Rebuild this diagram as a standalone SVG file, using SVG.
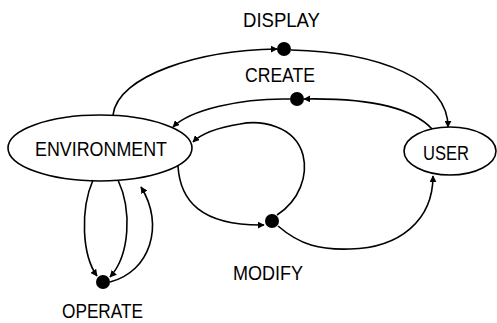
<svg xmlns="http://www.w3.org/2000/svg" width="497" height="323" viewBox="0 0 497 323">
<defs>
<style>
.n{fill:none;stroke:#000;stroke-width:1.6}
.e{fill:none;stroke:#000;stroke-width:1.6;marker-end:url(#ah)}
.d{fill:#000}
text{font-family:"Liberation Sans","DejaVu Sans",sans-serif;font-size:21px;fill:#000}
</style>
<marker id="ah" viewBox="0 0 10 10" refX="9" refY="5" markerWidth="7" markerHeight="7" markerUnits="userSpaceOnUse" orient="auto">
<path d="M0,0 L10,5 L0,10 z" fill="#000"/>
</marker>
</defs>
<rect width="497" height="323" fill="#fff"/>
<g id="connectors">
<path class="e" d="M113,115 C118,75 200,50 277,49"/>
<path class="e" d="M291,50 C380,52 448,80 448,127"/>
<path class="e" d="M432,129 C410,105 360,98 304,99"/>
<path class="e" d="M290,99 C240,98 190,110 173,127"/>
<path class="e" d="M277,215 C300,200 308,175 303,155 C295,125 260,120 240,124 C215,128 200,135 193,142"/>
<path class="e" d="M178,166 C180,200 200,226 264,225"/>
<path class="e" d="M278,226 C300,245 320,250 350,249 C400,248 433,220 433,176"/>
<path class="e" d="M93,180 C80,210 82,255 97,276"/>
<path class="e" d="M118,180 C132,210 130,255 110,277"/>
<path class="e" d="M110,282 C150,272 165,225 141,187"/>
</g>
<g id="environment">
<ellipse class="n" cx="100" cy="148" rx="92" ry="33"/>
<text x="35" y="156" textLength="132" lengthAdjust="spacingAndGlyphs">ENVIRONMENT</text>
</g>
<g id="user">
<ellipse class="n" cx="450" cy="151" rx="46" ry="24"/>
<text x="423" y="160" textLength="46" lengthAdjust="spacingAndGlyphs">USER</text>
</g>
<g id="display">
<circle class="d" cx="284" cy="49" r="7"/>
<text x="243" y="27" textLength="77" lengthAdjust="spacingAndGlyphs">DISPLAY</text>
</g>
<g id="create">
<circle class="d" cx="297" cy="99" r="7"/>
<text x="245" y="82" textLength="70" lengthAdjust="spacingAndGlyphs">CREATE</text>
</g>
<g id="modify">
<circle class="d" cx="272" cy="221" r="7"/>
<text x="233" y="280" textLength="70" lengthAdjust="spacingAndGlyphs">MODIFY</text>
</g>
<g id="operate">
<circle class="d" cx="103" cy="282" r="7"/>
<text x="62" y="318" textLength="81" lengthAdjust="spacingAndGlyphs">OPERATE</text>
</g>
</svg>
